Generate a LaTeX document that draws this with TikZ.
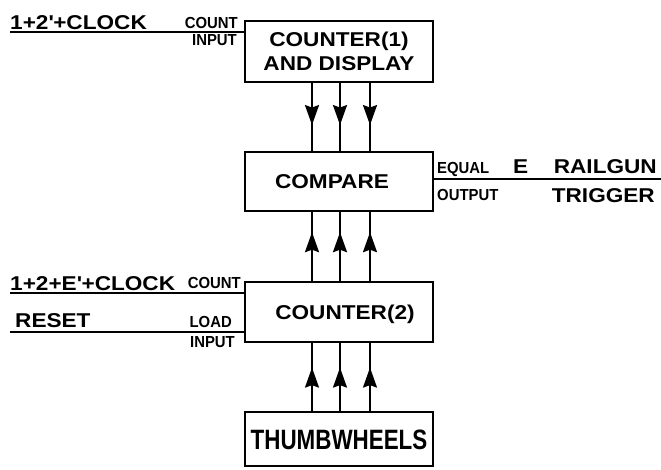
\documentclass[tikz,border=0pt]{standalone}
\usepackage{fontspec}
\usetikzlibrary{arrows.meta,decorations.markings}
\newfontfamily\lettbig{Liberation Sans}[FakeStretch=1.13]
\newfontfamily\lettsml{Liberation Sans}[FakeStretch=0.93]
\newfontfamily\lettthumb{Liberation Sans}[FakeStretch=0.8]
\tikzset{
  blk/.style={draw, line width=2.8pt, minimum width=188pt, inner sep=0pt,
    font=\lettbig\bfseries\fontsize{20}{24}\selectfont, align=center},
  conn/.style={line width=2pt},
  bigtxt/.style={inner sep=0pt, font=\lettbig\bfseries\fontsize{20}{24}\selectfont},
  smltxt/.style={inner sep=0pt, font=\lettsml\bfseries\fontsize{16}{18}\selectfont},
  midtip/.style={postaction={decorate}, decoration={markings,
    mark=at position #1 with {\arrow{Stealth[length=20pt,width=14pt,inset=2.5pt]}}}}
}
\begin{document}
\begin{tikzpicture}[x=1pt,y=-1pt]
\useasboundingbox[fill=white] (0,0) rectangle (661,469);
% boxes
\node[blk, minimum height=61pt] (c1) at (339,51.5) {COUNTER(1)\\AND DISPLAY};
\node[blk, minimum height=59pt, text height=14.3pt, text depth=0pt] (cmp) at (339,181.5) {COMPARE\hspace*{14pt}};
\node[blk, minimum height=60pt, text height=14.3pt, text depth=0pt] (c2) at (339,312) {\hspace*{12pt}COUNTER(2)};
\node[blk, minimum height=54pt, text height=20pt, text depth=0pt,
  font=\lettthumb\bfseries\fontsize{28}{30}\selectfont] (tw) at (339,439) {THUMBWHEELS};
% arrow columns
\coordinate (ax1) at (312,0);
\coordinate (ax2) at (340,0);
\coordinate (ax3) at (370,0);
\foreach \a in {ax1,ax2,ax3}{
  \draw[conn, midtip=0.62] (c1.south -| \a) -- (cmp.north -| \a);
  \draw[conn, midtip=0.71] (c2.north -| \a) -- (cmp.south -| \a);
  \draw[conn, midtip=0.64] (tw.north -| \a) -- (c2.south -| \a);
}
% input / output lines
\coordinate (i1) at (10,32);
\coordinate (i2) at (10,293);
\coordinate (i3) at (10,332);
\coordinate (o1) at (661,179);
\draw[conn] (i1) -- (i1 -| c1.west);
\draw[conn] (i2) -- (i2 -| c2.west);
\draw[conn] (i3) -- (i3 -| c2.west);
\draw[conn] (cmp.east |- o1) -- (o1);
% labels
\node[bigtxt, anchor=base west] (l1) at (10,29) {1+2\textquotesingle+CLOCK};
\node[smltxt, anchor=base east] (l2) at (238,28) {COUNT};
\node[smltxt, anchor=base east] (l3) at (237,45) {INPUT};
\node[smltxt, anchor=base west] (l4) at (437,173) {EQUAL};
\node[smltxt, anchor=base west] (l5) at (437,200) {OUTPUT};
\node[bigtxt, anchor=base west] (l6) at (513,173) {E};
\node[bigtxt, anchor=base east] (l7) at (657,173) {RAILGUN};
\node[bigtxt, anchor=base east] (l8) at (655,202) {TRIGGER};
\node[bigtxt, anchor=base west] (l9) at (10,290) {1+2+E\textquotesingle+CLOCK};
\node[smltxt, anchor=base east] (l10) at (241,288) {COUNT};
\node[bigtxt, anchor=base west] (l11) at (15,327) {RESET};
\node[smltxt, anchor=base east] (l12) at (232,327) {LOAD};
\node[smltxt, anchor=base east] (l13) at (235,347) {INPUT};
\end{tikzpicture}
\end{document}
